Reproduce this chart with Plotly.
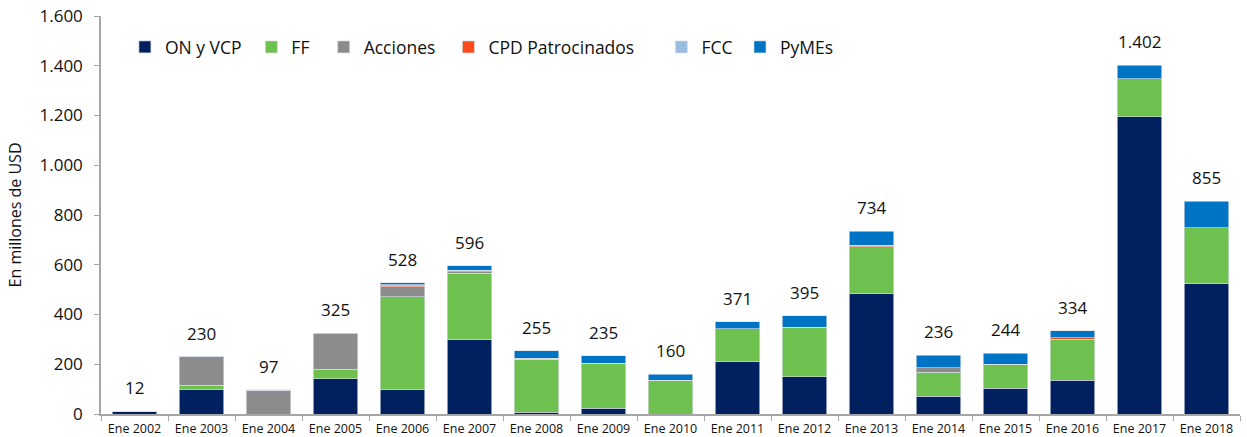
import plotly.graph_objects as go

categories = ["Ene 2002", "Ene 2003", "Ene 2004", "Ene 2005", "Ene 2006", "Ene 2007",
              "Ene 2008", "Ene 2009", "Ene 2010", "Ene 2011", "Ene 2012", "Ene 2013",
              "Ene 2014", "Ene 2015", "Ene 2016", "Ene 2017", "Ene 2018"]

on_vcp = [12, 99, 0, 141, 98, 300, 8, 24, 0, 210, 150, 486, 72, 103, 135, 1194, 524]
ff = [0, 17, 0, 38, 373, 265, 212, 181, 136, 132, 198, 187, 95, 97, 166, 154, 224]
acciones = [0, 114, 93, 143, 40, 6, 0, 0, 0, 0, 0, 0, 18, 0, 0, 0, 0]
cpd = [0, 0, 0, 0, 4, 4, 5, 0, 0, 0, 0, 6, 0, 0, 6, 0, 0]
fcc = [0, 0, 2, 0, 4, 2, 0, 0, 0, 0, 0, 0, 0, 0, 0, 0, 0]
pymes = [0, 0, 2, 3, 9, 19, 30, 30, 24, 29, 47, 55, 51, 44, 27, 54, 107]

series = [
    ("ON y VCP", on_vcp, "#002060"),
    ("FF", ff, "#6EC14F"),
    ("Acciones", acciones, "#8C8C8C"),
    ("CPD Patrocinados", cpd, "#FF4A1C"),
    ("FCC", fcc, "#9BBBE0"),
    ("PyMEs", pymes, "#0074C4"),
]

# horizontal position (paper fraction) of each legend entry
legend_x = [0.021, 0.132, 0.1955, 0.305, 0.492, 0.561]

FONT = "Open Sans"

fig = go.Figure()
legend_ids = ["legend", "legend2", "legend3", "legend4", "legend5", "legend6"]
for (name, vals, color), lid in zip(series, legend_ids):
    fig.add_trace(go.Bar(
        x=categories, y=vals, name=name, legend=lid, showlegend=True,
        marker=dict(color=color, line=dict(color="rgba(215,222,230,0.9)", width=0.7)),
    ))

totals = [sum(v) for v in zip(on_vcp, ff, acciones, cpd, fcc, pymes)]
for cat, t in zip(categories, totals):
    fig.add_annotation(
        x=cat, y=t, text=f"{t:,}".replace(",", "."), showarrow=False,
        yanchor="bottom", yshift=10,
        font=dict(family=FONT, size=17, color="#111111"),
    )

legend_layout = {}
for lid, lx in zip(legend_ids, legend_x):
    legend_layout[lid] = dict(
        orientation="h", x=lx, y=0.922, xanchor="left", yanchor="middle",
        font=dict(family=FONT, size=17.5, color="#111111"),
        bgcolor="rgba(0,0,0,0)",
    )

fig.update_layout(
    width=1247, height=437,
    showlegend=True,
    barmode="stack", bargap=0.34,
    paper_bgcolor="white", plot_bgcolor="white",
    margin=dict(l=101, r=7, t=16, b=23),
    separators=",.",
    font=dict(family=FONT, color="#111111"),
    xaxis=dict(
        range=[-0.5, 16.5], showline=True, linecolor="#A6A6A6", linewidth=1.5,
        ticks="outside", tickson="boundaries", ticklen=5, tickcolor="#A6A6A6",
        tickfont=dict(family=FONT, size=12.5, color="#111111"),
        showgrid=False, automargin=False, ticklabelstandoff=2,
    ),
    yaxis=dict(
        range=[0, 1600], dtick=200, showline=True, linecolor="#A6A6A6", linewidth=1.5,
        ticks="outside", ticklen=5, tickcolor="#A6A6A6",
        tickfont=dict(family=FONT, size=17, color="#111111"),
        tickformat=",d", showgrid=False, zeroline=False, automargin=False,
        title=dict(text="En millones de USD", font=dict(family=FONT, size=16, color="#111111"), standoff=14),
        ticklabelstandoff=8,
    ),
    **legend_layout,
)

fig.write_html("out.html", config={"displayModeBar": False},
               post_script="document.body.style.margin='0';")
